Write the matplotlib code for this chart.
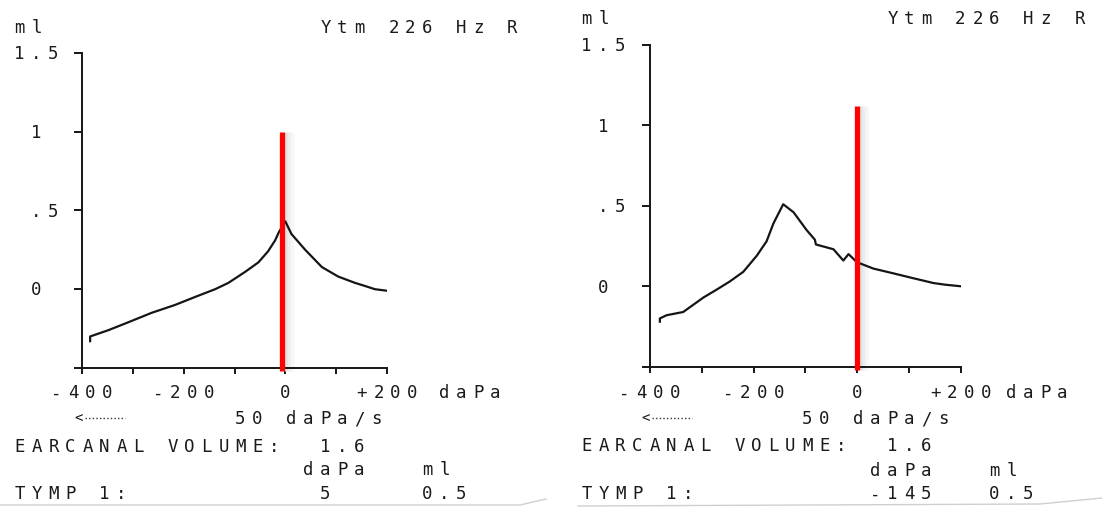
import matplotlib
matplotlib.use("Agg")
import matplotlib.pyplot as plt
import matplotlib.transforms as mtransforms
from matplotlib.lines import Line2D

W, H = 1102, 508

# tympanogram traces (pressure daPa, compliance ml)
left_p = [-384, -384, -348, -309, -263, -217, -178, -138, -112, -79, -53, -34,
          -20, -13, 0, 12, 39, 72, 104, 137, 157, 176, 200]
left_v = [-0.33, -0.30, -0.26, -0.21, -0.15, -0.10, -0.05, 0.00, 0.04, 0.11, 0.17, 0.24,
          0.31, 0.36, 0.43, 0.35, 0.25, 0.14, 0.08, 0.04, 0.02, 0.00, -0.01]

right_p = [-381, -381, -368, -336, -323, -297, -271, -246, -220, -194, -175, -162,
           -143, -123, -98, -82, -80, -46, -27, -17, -1, 31, 70, 108, 147, 169, 200]
right_v = [-0.22, -0.20, -0.18, -0.16, -0.13, -0.07, -0.02, 0.03, 0.09, 0.19, 0.28, 0.39,
           0.51, 0.46, 0.35, 0.29, 0.26, 0.23, 0.16, 0.20, 0.15, 0.11, 0.08, 0.05, 0.02, 0.01, 0.00]

# red marker lines drawn on top (x position, top value)
left_red = (-7, 1.0)
right_red = (0, 1.12)
red_bottom = -0.52

xtick_vals = [-400, -300, -200, -100, 0, 100, 200]
xlabel_vals = [-400, -200, 0, 200]
xlabel_txt = ["-400", "-200", "0", "+200"]
ytick_vals = [-0.5, 0, 0.5, 1, 1.5]
ylabel_vals = [1.5, 1, 0.5, 0]
ylabel_txt = ["1.5", "1", ".5", "0"]
ylabel_col = [0, 1, 1, 1]

volume = ["1.6", "1.6"]
tymp_dapa = ["5", "-145"]
tymp_ml = ["0.5", "0.5"]

fig = plt.figure(figsize=(W / 100, H / 100), dpi=100)
fig.patch.set_facecolor("white")
px = mtransforms.Affine2D().scale(1 / W, -1 / H).translate(0, 1) + fig.transFigure

FONT = dict(family="DejaVu Sans Mono", fontsize=12.5, color="#1a1a1a")
PITCH = 17
CAP = 12.5
INK = "#151515"


def mono(x, y, s, center=False):
    # printer look: one fixed cell per character, y is the middle of the caps
    if center:
        x = x - (len(s) - 1) * PITCH / 2
    else:
        x = x + 5.5
    for i, ch in enumerate(s):
        if ch != " ":
            fig.text(x + i * PITCH, y + CAP / 2, ch, transform=px,
                     ha="center", va="baseline", **FONT)


def to_px(ax, xv, yv):
    dx, dy = ax.transData.transform((xv, yv))
    return dx, H - dy


def panel(box, p, v, red, x0, top_y, rows, k):
    left, right, top, bottom = box
    ax = fig.add_axes([left / W, 1 - bottom / H, (right - left) / W, (bottom - top) / H])
    ax.set_xlim(-400, 200)
    ax.set_ylim(-0.5, 1.5)
    ax.patch.set_visible(False)
    for s in ["top", "right"]:
        ax.spines[s].set_visible(False)
    for s in ["left", "bottom"]:
        ax.spines[s].set_linewidth(1.4)
        ax.spines[s].set_color(INK)
    ax.set_xticks(xtick_vals)
    ax.set_yticks(ytick_vals)
    ax.tick_params(axis="x", direction="out", length=4.5, width=1.4, color=INK, labelbottom=False)
    ax.tick_params(axis="y", direction="out", length=5.5, width=1.4, color=INK, labelleft=False)

    ax.plot(p, v, color=INK, lw=1.6, zorder=3)

    # soft scan shadow to the right of the red marker
    for dx, c in [(4, "#e2e2e2"), (7, "#eeeeee"), (10, "#f7f7f7")]:
        shadow = mtransforms.offset_copy(ax.transData, fig, x=dx, units="dots")
        ax.plot([red[0]] * 2, [red_bottom, red[1]], color=c, lw=2.5,
                solid_capstyle="butt", clip_on=False, zorder=2, transform=shadow)
    ax.plot([red[0]] * 2, [red_bottom, red[1]], color="#ff0000", lw=3.8,
            solid_capstyle="butt", clip_on=False, zorder=5)

    mono(x0, top_y, "ml")
    mono(x0 + 18 * PITCH, top_y, "Ytm 226 Hz R")
    for val, lab, c in zip(ylabel_vals, ylabel_txt, ylabel_col):
        mono(x0 + c * PITCH, to_px(ax, -400, val)[1], lab)
    for val, lab in zip(xlabel_vals, xlabel_txt):
        mono(to_px(ax, val, -0.5)[0], rows[0], lab, center=True)
    mono(x0 + 25 * PITCH, rows[0], "daPa")

    # sweep direction arrow
    fig.text(x0 + 65, rows[1] + 4, "<", transform=px, ha="center", va="baseline",
             family="DejaVu Sans Mono", fontsize=10, color=INK)
    fig.add_artist(Line2D([x0 + 71, x0 + 111], [rows[1], rows[1]], transform=px,
                          color="#333333", lw=1, linestyle=(0, (1, 1.6))))
    mono(x0 + 13 * PITCH, rows[1], "50 daPa/s")
    mono(x0, rows[2], "EARCANAL VOLUME:")
    mono(x0 + 18 * PITCH, rows[2], volume[k])
    mono(x0 + 17 * PITCH, rows[3], "daPa")
    mono(x0 + 24 * PITCH, rows[3], "ml")
    mono(x0, rows[4], "TYMP 1:")
    mono(x0 + (17 if len(tymp_dapa[k]) > 1 else 18) * PITCH, rows[4], tymp_dapa[k])
    mono(x0 + 24 * PITCH, rows[4], tymp_ml[k])
    return ax


panel((82, 387, 52.7, 368), left_p, left_v, left_red, 14, 27, [392, 418, 446, 469, 493], 0)
panel((650, 961, 45, 366.7), right_p, right_v, right_red, 581, 18, [392, 418, 445, 470, 493], 1)

# paper edges of the scanned slips
fig.add_artist(Line2D([0, 520, 546], [505, 505, 499], transform=px, color="#cfcfcf", lw=1))
fig.add_artist(Line2D([578, 1040, 1102], [506, 504, 498], transform=px, color="#cfcfcf", lw=1))

fig.savefig("out.png", dpi=100, facecolor="white")
